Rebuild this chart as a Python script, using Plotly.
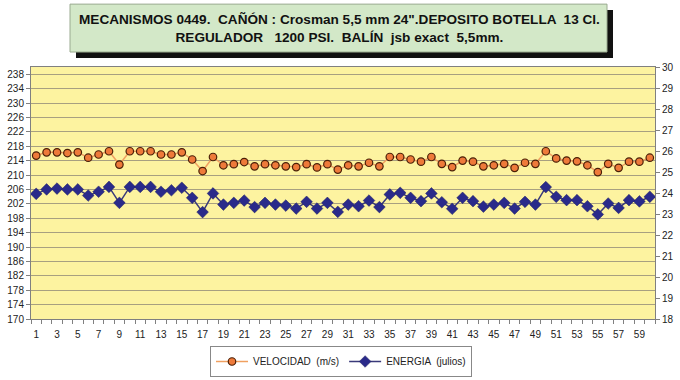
import plotly.graph_objects as go

disparo = list(range(1, 61))
velocidad = [215.4, 216.3, 216.3, 216.1, 216.3, 214.8, 215.7, 216.6, 212.9, 216.6,
             216.6, 216.6, 215.7, 215.7, 216.3, 214.3, 211.1, 215.0, 212.7, 213.0,
             213.6, 212.4, 213.0, 212.7, 212.4, 212.2, 213.0, 212.1, 213.0, 211.5,
             212.7, 212.4, 213.4, 212.4, 215.0, 215.0, 214.3, 213.7, 215.0, 213.1,
             212.2, 214.0, 213.7, 212.4, 212.7, 213.1, 212.0, 213.4, 213.1, 216.6,
             214.6, 214.0, 213.8, 212.7, 210.8, 213.1, 212.0, 213.7, 213.7, 214.8]
energia = [23.96, 24.17, 24.21, 24.17, 24.17, 23.88, 24.06, 24.29, 23.53, 24.29,
           24.29, 24.29, 24.06, 24.13, 24.25, 23.77, 23.09, 23.98, 23.45, 23.53,
           23.64, 23.33, 23.53, 23.45, 23.40, 23.26, 23.58, 23.26, 23.53, 23.10,
           23.45, 23.37, 23.64, 23.33, 23.93, 24.01, 23.77, 23.61, 23.98, 23.56,
           23.25, 23.77, 23.61, 23.35, 23.45, 23.53, 23.26, 23.58, 23.45, 24.28,
           23.82, 23.66, 23.66, 23.37, 22.98, 23.50, 23.29, 23.66, 23.60, 23.82]
x_ticks = list(range(1, 60, 2))
y_left_ticks = list(range(170, 239, 4))
y_right_ticks = list(range(18, 31))
titulo = ("<b>MECANISMOS 0449.  CAÑÓN : Crosman 5,5 mm 24\".DEPOSITO BOTELLA  13 Cl.<br>"
          "REGULADOR   1200 PSI.  BALÍN  jsb exact  5,5mm.</b>")

W, H = 680, 380
PW = 624.0
PH = 252.5
L = 31
BOT = 319.5

def px_x(p):
    return (p - L) / PW

def px_y(p):
    return (BOT - p) / PH

fig = go.Figure()
fig.add_trace(go.Scatter(
    x=disparo, y=velocidad, name="VELOCIDAD  (m/s)", mode="lines+markers",
    line=dict(color="#f0a060", width=1.5),
    marker=dict(symbol="circle", size=7.5, color="#ee7a3a",
                line=dict(color="#4a2008", width=1.2)),
    yaxis="y"))
fig.add_trace(go.Scatter(
    x=disparo, y=energia, name="ENERGIA  (julios)", mode="lines+markers",
    line=dict(color="#3a3a7a", width=1.5),
    marker=dict(symbol="diamond", size=9, color="#2a2a8a",
                line=dict(color="#202060", width=0.5)),
    yaxis="y2"))

# title box with shadow
fig.add_shape(type="rect", xref="paper", yref="paper",
              x0=px_x(76), x1=px_x(613), y0=px_y(58), y1=px_y(10),
              fillcolor="#111111", line=dict(width=0), layer="above")
fig.add_shape(type="rect", xref="paper", yref="paper",
              x0=px_x(70), x1=px_x(607), y0=px_y(52), y1=px_y(4),
              fillcolor="#d3e8c8", line=dict(color="#9aaa90", width=1), layer="above")
fig.add_annotation(text=titulo, xref="paper", yref="paper",
                   x=px_x(339), y=px_y(28),
                   xanchor="center", yanchor="middle", showarrow=False,
                   font=dict(family="Liberation Sans Narrow, Liberation Sans, Arial",
                             size=13.6, color="#111111"))

fig.update_layout(
    width=W, height=H,
    margin=dict(l=L, r=25, t=67, b=60.5),
    paper_bgcolor="white",
    plot_bgcolor="#fdf3a0",
    showlegend=True,
    legend=dict(orientation="h", xref="container", yref="container",
                x=341 / W, y=(H - 377) / H, xanchor="center", yanchor="bottom",
                bordercolor="#888888", borderwidth=1, bgcolor="white",
                font=dict(family="Liberation Sans, Arial", size=10, color="#222222"),
                itemwidth=32, tracegroupgap=0),
    xaxis=dict(range=[0.5, 60.5], tickvals=x_ticks, ticktext=[str(v) for v in x_ticks],
               automargin=False,
               showgrid=False, zeroline=False, showline=True, linecolor="#808080",
               ticks="", ticklabelstandoff=6,
               tickfont=dict(family="Liberation Sans, Arial", size=10, color="#222222"),
               minor=dict(tick0=0.5, dtick=1, ticks="outside", ticklen=4, tickcolor="#808080"),
               mirror=True),
    yaxis=dict(range=[170, 240], tickvals=y_left_ticks, showgrid=True, automargin=False,
               gridcolor="#a8a080", gridwidth=1, zeroline=False, showline=True,
               linecolor="#808080", ticks="outside", ticklen=4, tickcolor="#808080",
               tickfont=dict(family="Liberation Sans, Arial", size=10, color="#222222")),
    yaxis2=dict(range=[18, 30], tickvals=y_right_ticks, overlaying="y", side="right",
                automargin=False,
                showgrid=False, zeroline=False, showline=True, linecolor="#808080",
                ticks="outside", ticklen=4, tickcolor="#808080",
                tickfont=dict(family="Liberation Sans, Arial", size=10, color="#222222")),
)

fig.write_html("out.html", config={"displayModeBar": False},
               post_script="document.body.style.margin='0';")
